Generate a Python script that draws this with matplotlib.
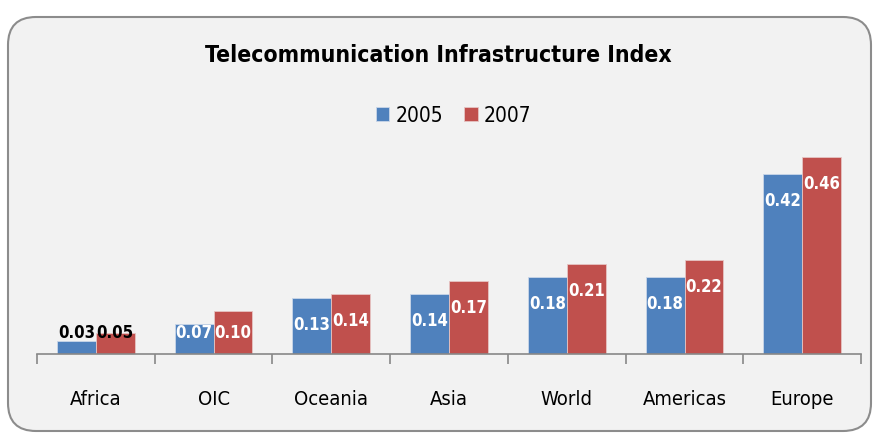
import matplotlib.pyplot as plt
from matplotlib.patches import FancyBboxPatch
from matplotlib.transforms import IdentityTransform
import numpy as np

# datos
regiones = ['Africa', 'OIC', 'Oceania', 'Asia', 'World', 'Americas', 'Europe']
v2005 = [0.03, 0.07, 0.13, 0.14, 0.18, 0.18, 0.42]
v2007 = [0.05, 0.10, 0.14, 0.17, 0.21, 0.22, 0.46]
series = ['2005', '2007']

azul = '#4F81BD'
rojo = '#C0504D'

plt.rcParams['font.family'] = ['DejaVu Sans']
plt.rcParams['font.stretch'] = 'condensed'

fig = plt.figure(figsize=(8.76, 4.35), dpi=100)
fig.patch.set_facecolor('white')

# marco redondeado en pixeles
marco = FancyBboxPatch((8, 3), 863, 414, boxstyle='round,pad=0,rounding_size=28',
                       transform=IdentityTransform(), facecolor='#F2F2F2',
                       edgecolor='#8C8C8C', linewidth=1.5, zorder=-10)
fig.patches.append(marco)

ax = fig.add_axes([0.0422, 0.184, 0.9408, 0.492])
ax.set_facecolor('none')
ax.set_zorder(5)

x = np.arange(len(regiones))
w = 0.33
b1 = ax.bar(x - w / 2, v2005, w, color=azul, edgecolor='#C9D6E8', linewidth=0.6, label=series[0])
b2 = ax.bar(x + w / 2, v2007, w, color=rojo, edgecolor='#E6C4C3', linewidth=0.6, label=series[1])

ax.set_xlim(-0.5, len(regiones) - 0.5)
ax.set_ylim(0, 0.5)

# etiquetas de valores
for xs, vals in [(x - w / 2, v2005), (x + w / 2, v2007)]:
    for xi, v in zip(xs, vals):
        y = max(v - 0.0607, 0.0514)
        color = 'white' if v > 0.06 else 'black'
        ax.text(xi, y, f'{v:.2f}', ha='center', va='center', fontsize=12,
                fontweight='bold', fontstretch='condensed', color=color)

for s in ['top', 'right', 'left']:
    ax.spines[s].set_visible(False)
ax.spines['bottom'].set_color('#888888')
ax.spines['bottom'].set_linewidth(1.2)
ax.set_yticks([])
ax.set_xticks(np.arange(len(regiones) + 1) - 0.5, minor=False)
ax.set_xticklabels([])
ax.tick_params(axis='x', length=7, width=1.2, color='#888888')
for xi, r in zip(x, regiones):
    ax.text(xi, -0.105, r, ha='center', va='center', fontsize=14.5, color='black', clip_on=False)

fig.text(0.5, 0.873, 'Telecommunication Infrastructure Index', ha='center', va='center',
         fontsize=16.5, fontweight='bold')
fig.legend(handles=[b1, b2], labels=series, loc='center', bbox_to_anchor=(0.518, 0.733),
           ncol=2, frameon=False, fontsize=15, handlelength=0.65, handleheight=0.65,
           handletextpad=0.3, columnspacing=1.0)

fig.savefig('out.png', dpi=100)
